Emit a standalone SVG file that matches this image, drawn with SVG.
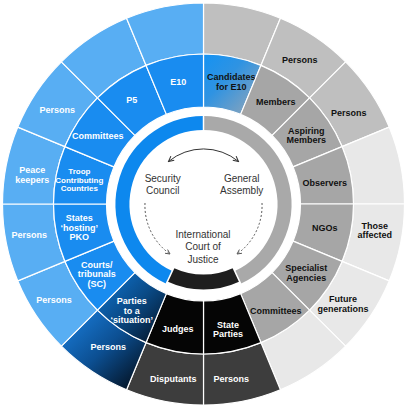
<svg xmlns="http://www.w3.org/2000/svg" width="406" height="412" viewBox="0 0 406 412">
<style>
.seg{stroke:#fff;stroke-width:1.2;stroke-linejoin:round}
.t{font-family:"Liberation Sans",Arial,sans-serif;font-weight:bold;font-size:9px;text-anchor:middle}
.s8{font-size:8px}
.w{fill:#fff}
.k{fill:#111}
.c{font-family:"Liberation Sans",Arial,sans-serif;font-size:10px;fill:#333;text-anchor:middle}
.ob{fill:#58aef3}.mb{fill:#198cf0}.og{fill:#bfbfbf}.mg{fill:#a6a6a6}.lg{fill:#e8e8e8}.dg{fill:#3d3d3d}.bk{fill:#050505}
.arr{fill:none;stroke:#333;stroke-width:1}
.dash{fill:none;stroke:#555;stroke-width:1;stroke-dasharray:2 2}
</style>
<defs>
<path id="mid" d="M203.5,54 A150,150 0 0 1 260.90,65.42 L240.62,114.38 A97,97 0 0 0 203.5,107 Z"/>
<path id="out" d="M203.5,3 A201,201 0 0 1 280.42,18.30 L260.90,65.42 A150,150 0 0 0 203.5,54 Z"/>
<linearGradient id="gCand" x1="0" y1="0" x2="1" y2="1">
<stop offset="0" stop-color="#1492f3"/><stop offset="0.4" stop-color="#2f93e2"/><stop offset="1" stop-color="#9aa7b4"/>
</linearGradient>
<linearGradient id="gParties" x1="0" y1="0" x2="1" y2="1">
<stop offset="0" stop-color="#0f78d6"/><stop offset="0.5" stop-color="#0a4a86"/><stop offset="1" stop-color="#040e1c"/>
</linearGradient>
<linearGradient id="gPersP" x1="0" y1="0" x2="1" y2="1">
<stop offset="0" stop-color="#1b82e2"/><stop offset="0.5" stop-color="#0c4f92"/><stop offset="1" stop-color="#02070e"/>
</linearGradient>
<marker id="ah" viewBox="0 0 8 8" refX="7" refY="4" markerWidth="7" markerHeight="7" orient="auto-start-reverse" markerUnits="userSpaceOnUse">
<path d="M1,1 L7,4 L1,7" fill="none" stroke="#333" stroke-width="1.2"/>
</marker>
<marker id="ahd" viewBox="0 0 8 8" refX="7" refY="4" markerWidth="6" markerHeight="6" orient="auto" markerUnits="userSpaceOnUse">
<path d="M1,1 L7,4 L1,7" fill="none" stroke="#555" stroke-width="1.2"/>
</marker>
</defs>
<rect width="406" height="412" fill="#fff"/>

<!-- Outer ring -->
<g id="outer-0"><use href="#out" class="seg og"/></g>
<g id="outer-persons-members"><use href="#out" class="seg og" transform="rotate(22.5 203.5 204)"/><text class="t k" x="299.7" y="63">Persons</text></g>
<g id="outer-persons-aspiring"><use href="#out" class="seg og" transform="rotate(45 203.5 204)"/><text class="t k" x="348.7" y="116.3">Persons</text></g>
<g id="outer-67"><use href="#out" class="seg lg" transform="rotate(67.5 203.5 204)"/></g>
<g id="outer-those-affected"><use href="#out" class="seg lg" transform="rotate(90 203.5 204)"/><text class="t k" x="374.7" y="228.75">Those</text><text class="t k" x="374.7" y="238.25">affected</text></g>
<g id="outer-future"><use href="#out" class="seg lg" transform="rotate(112.5 203.5 204)"/><text class="t k" x="343" y="302">Future</text><text class="t k" x="343" y="311.5">generations</text></g>
<g id="outer-135"><use href="#out" class="seg lg" transform="rotate(135 203.5 204)"/></g>
<g id="outer-persons-state"><use href="#out" class="seg dg" transform="rotate(157.5 203.5 204)"/><text class="t w" x="231.3" y="381.7">Persons</text></g>
<g id="outer-disputants"><use href="#out" class="seg dg" transform="rotate(180 203.5 204)"/><text class="t w" x="173.3" y="381.7">Disputants</text></g>
<g id="outer-persons-parties"><path class="seg" fill="url(#gPersP)" d="M126.58,389.70 A201,201 0 0 1 61.37,346.13 L97.43,310.07 A150,150 0 0 0 146.10,342.58 Z"/><text class="t w" x="108.3" y="350">Persons</text></g>
<g id="outer-persons-courts"><use href="#out" class="seg ob" transform="rotate(225 203.5 204)"/><text class="t w" x="54" y="303.3">Persons</text></g>
<g id="outer-persons-hosting"><use href="#out" class="seg ob" transform="rotate(247.5 203.5 204)"/><text class="t w" x="29.3" y="238.3">Persons</text></g>
<g id="outer-peacekeepers"><use href="#out" class="seg ob" transform="rotate(270 203.5 204)"/><text class="t w" x="32.3" y="173.4">Peace</text><text class="t w" x="32.3" y="182.9">keepers</text></g>
<g id="outer-persons-sc"><use href="#out" class="seg ob" transform="rotate(292.5 203.5 204)"/><text class="t w" x="57.3" y="113">Persons</text></g>
<g id="outer-315"><use href="#out" class="seg ob" transform="rotate(315 203.5 204)"/></g>
<g id="outer-337"><use href="#out" class="seg ob" transform="rotate(337.5 203.5 204)"/></g>

<!-- Middle ring -->
<g id="candidates-e10"><path class="seg" fill="url(#gCand)" d="M203.5,54 A150,150 0 0 1 260.90,65.42 L240.62,114.38 A97,97 0 0 0 203.5,107 Z"/><text class="t k" x="231.3" y="80.1">Candidates</text><text class="t k" x="231.3" y="89.6">for E10</text></g>
<g id="members"><use href="#mid" class="seg mg" transform="rotate(22.5 203.5 204)"/><text class="t k" x="275.7" y="105.3">Members</text></g>
<g id="aspiring-members"><use href="#mid" class="seg mg" transform="rotate(45 203.5 204)"/><text class="t k" x="306.3" y="133.75">Aspiring</text><text class="t k" x="306.3" y="143.25">Members</text></g>
<g id="observers"><use href="#mid" class="seg mg" transform="rotate(67.5 203.5 204)"/><text class="t k" x="324.7" y="185.7">Observers</text></g>
<g id="ngos"><use href="#mid" class="seg mg" transform="rotate(90 203.5 204)"/><text class="t k" x="324.7" y="230.7">NGOs</text></g>
<g id="specialist-agencies"><use href="#mid" class="seg mg" transform="rotate(112.5 203.5 204)"/><text class="t k" x="306.3" y="271.45">Specialist</text><text class="t k" x="306.3" y="280.95">Agencies</text></g>
<g id="committees-ga"><use href="#mid" class="seg mg" transform="rotate(135 203.5 204)"/><text class="t k" x="275.7" y="314">Committees</text></g>
<g id="state-parties"><use href="#mid" class="seg bk" transform="rotate(157.5 203.5 204)"/><text class="t w" x="228" y="327.6">State</text><text class="t w" x="228" y="337.1">Parties</text></g>
<g id="judges"><use href="#mid" class="seg bk" transform="rotate(180 203.5 204)"/><text class="t w" x="177.7" y="332.3">Judges</text></g>
<g id="parties-situation"><path class="seg" fill="url(#gParties)" d="M146.10,342.58 A150,150 0 0 1 97.43,310.07 L134.91,272.59 A97,97 0 0 0 166.38,293.62 Z"/><text class="t w" x="131.7" y="304">Parties</text><text class="t w" x="131.7" y="313.5">to a</text><text class="t w" x="131.7" y="323">‘situation’</text></g>
<g id="courts-tribunals"><use href="#mid" class="seg mb" transform="rotate(225 203.5 204)"/><text class="t w" x="96.7" y="267.5">Courts/</text><text class="t w" x="96.7" y="277">tribunals</text><text class="t w" x="96.7" y="286.5">(SC)</text></g>
<g id="states-hosting"><use href="#mid" class="seg mb" transform="rotate(247.5 203.5 204)"/><text class="t w" x="79.3" y="221.4">States</text><text class="t w" x="79.3" y="230.9">‘hosting’</text><text class="t w" x="79.3" y="240.4">PKO</text></g>
<g id="troop-contributing"><use href="#mid" class="seg mb" transform="rotate(270 203.5 204)"/><text class="t s8 w" x="79.3" y="174.2">Troop</text><text class="t s8 w" x="79.3" y="182.7">Contributing</text><text class="t s8 w" x="79.3" y="191.2">Countries</text></g>
<g id="committees-sc"><use href="#mid" class="seg mb" transform="rotate(292.5 203.5 204)"/><text class="t w" x="97.7" y="138.7">Committees</text></g>
<g id="p5"><use href="#mid" class="seg mb" transform="rotate(315 203.5 204)"/><text class="t w" x="131.7" y="103">P5</text></g>
<g id="e10"><use href="#mid" class="seg mb" transform="rotate(337.5 203.5 204)"/><text class="t w" x="178.3" y="84.7">E10</text></g>

<!-- Inner band -->
<g id="security-council">
<path d="M169.27,277.41 A81,81 0 0 1 203.5,123" fill="none" stroke="#0d88ee" stroke-width="14"/>
<text class="c" x="162.7" y="181.8">Security</text><text class="c" x="162.7" y="194.2">Council</text>
</g>
<g id="general-assembly">
<path d="M203.5,123 A81,81 0 0 1 237.73,277.41" fill="none" stroke="#a9a9a9" stroke-width="14"/>
<text class="c" x="241.7" y="181.8">General</text><text class="c" x="241.7" y="194.2">Assembly</text>
</g>
<g id="icj">
<path d="M236.46,274.69 A78,78 0 0 1 170.54,274.69" fill="none" stroke="#1e1e1e" stroke-width="15"/>
<text class="c" x="203" y="237.5">International</text><text class="c" x="203" y="250.2">Court of</text><text class="c" x="203" y="262.8">Justice</text>
</g>
<g id="band-separators" stroke="#fff" stroke-width="1.5">
<line x1="203.5" y1="114" x2="203.5" y2="134"/>
<line x1="232.24" y1="265.63" x2="241.54" y2="285.57"/>
<line x1="174.76" y1="265.63" x2="165.46" y2="285.57"/>
</g>

<!-- Connectors -->
<g id="connectors">
<path class="arr" d="M168.5,161.5 A55,55 0 0 1 238.5,161.5" marker-start="url(#ah)" marker-end="url(#ah)"/>
<path class="dash" d="M145,203 A59,59 0 0 0 170,254" marker-end="url(#ahd)"/>
<path class="dash" d="M262,203 A59,59 0 0 1 237,254" marker-end="url(#ahd)"/>
</g>
</svg>
